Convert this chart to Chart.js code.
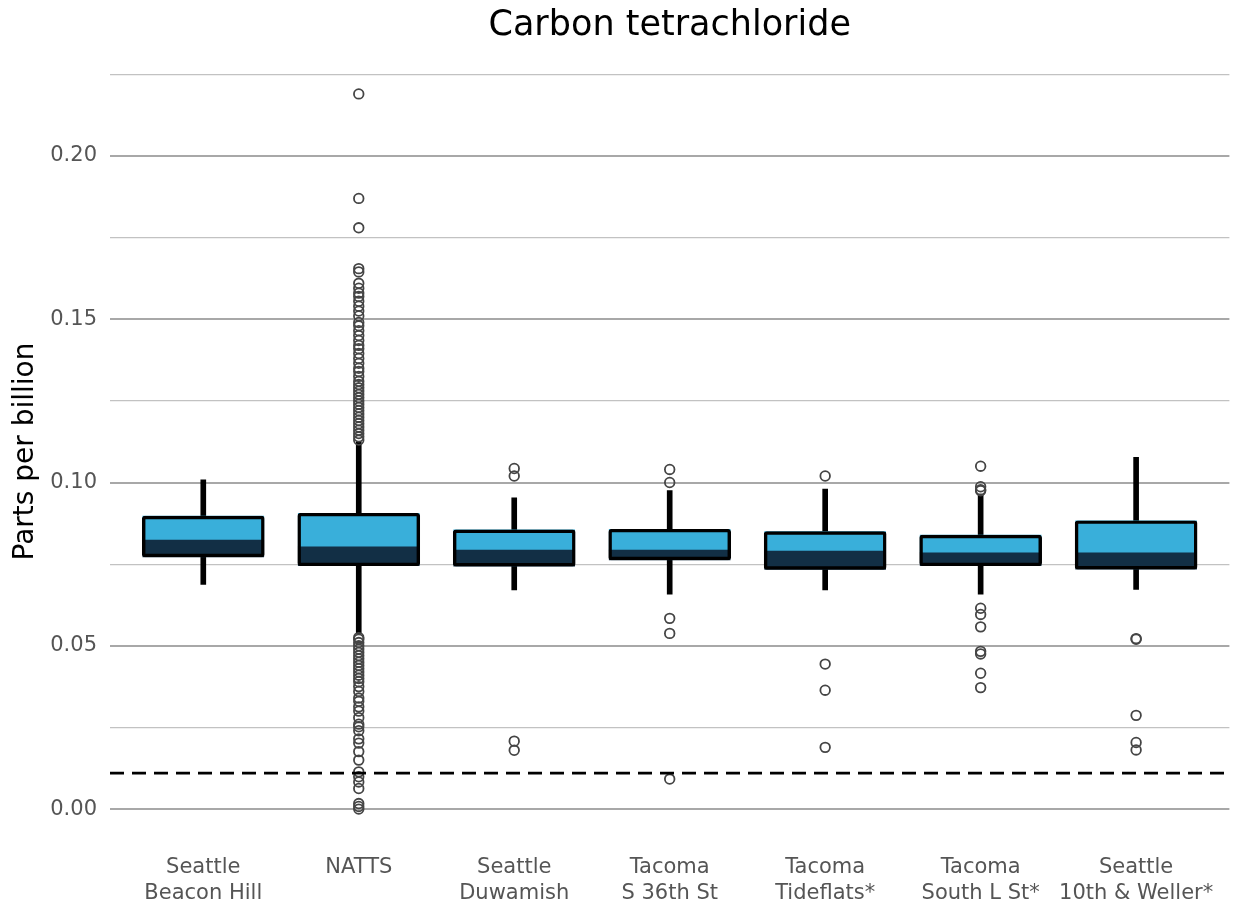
<!DOCTYPE html>
<html>
<head>
<meta charset="utf-8">
<title>Carbon tetrachloride</title>
<script src="https://cdn.jsdelivr.net/npm/chart.js@4.4.1/dist/chart.umd.min.js"></script>
<style>
  html, body { margin: 0; padding: 0; background: #ffffff; }
  #wrap { width: 1236px; height: 907px; }
</style>
</head>
<body>
<div id="wrap"><canvas id="chart" width="1236" height="907"></canvas></div>
<script>
// Monitoring sites (two-line axis labels)
const sites = [
  ["Seattle", "Beacon Hill"],
  ["NATTS"],
  ["Seattle", "Duwamish"],
  ["Tacoma", "S 36th St"],
  ["Tacoma", "Tideflats*"],
  ["Tacoma", "South L St*"],
  ["Seattle", "10th & Weller*"]
];

// Box-plot summaries, parts per billion
const whiskerLow  = [0.0688, 0.0537, 0.0671, 0.0658, 0.0671, 0.0658, 0.0673];
const q1          = [0.0772, 0.0745, 0.0744, 0.0763, 0.0734, 0.0745, 0.0735];
const median      = [0.0824, 0.0803, 0.0793, 0.0793, 0.0790, 0.0785, 0.0785];
const q3          = [0.0897, 0.0906, 0.0855, 0.0857, 0.0850, 0.0839, 0.0883];
const whiskerHigh = [0.1008, 0.1125, 0.0953, 0.0975, 0.0980, 0.0962, 0.1077];

// Outlying samples per site
const outBeaconHill = [];
const outNATTS = [
  0.219, 0.187, 0.178, 0.1655, 0.1645, 0.161, 0.1595, 0.158, 0.157, 0.1555,
  0.154, 0.1525, 0.151, 0.149, 0.148, 0.1465, 0.145, 0.1435, 0.142, 0.141,
  0.1395, 0.138, 0.1365, 0.135, 0.134, 0.1325, 0.131, 0.130, 0.129, 0.128,
  0.127, 0.126, 0.125, 0.124, 0.123, 0.122, 0.121, 0.120, 0.119, 0.118,
  0.117, 0.116, 0.115, 0.114, 0.113,
  0.0525, 0.052, 0.051, 0.050, 0.049, 0.048, 0.047, 0.046, 0.045, 0.044,
  0.043, 0.042, 0.041, 0.040, 0.039, 0.0375, 0.036, 0.034, 0.033, 0.0313,
  0.030, 0.028, 0.026, 0.0252, 0.024, 0.0215, 0.0202, 0.0176, 0.015, 0.0114,
  0.0099, 0.0083, 0.0063, 0.0017, 0.0008, 0.0
];
const outDuwamish = [0.1043, 0.102, 0.0208, 0.018];
const outS36th    = [0.104, 0.100, 0.0584, 0.0538, 0.0092];
const outTideflats = [0.102, 0.0444, 0.0364, 0.0189];
const outSouthL   = [0.105, 0.0987, 0.0978, 0.0975, 0.0615, 0.0596, 0.0558, 0.0483, 0.0475, 0.0416, 0.0372];
const outWeller   = [0.0522, 0.052, 0.0287, 0.0204, 0.0181];
const outliers = [outBeaconHill, outNATTS, outDuwamish, outS36th, outTideflats, outSouthL, outWeller];

// Reference level drawn as the dashed line
const threshold = 0.011;

// Value-axis gridlines; labelled every 0.05
const yGridValues = [0, 0.025, 0.05, 0.075, 0.10, 0.125, 0.15, 0.175, 0.20, 0.225];

const FONT = "'DejaVu Sans', sans-serif";
const X_MIN = 0.4, X_MAX = 7.6;
const Y_MIN = -0.011, Y_MAX = 0.230;

const positions = sites.map((_, i) => i + 1);
const spans = (lo, hi) => positions.map((x, i) => ({ x: x, y: [lo[i], hi[i]] }));
const outlierPoints = outliers.flatMap((vals, i) => vals.map(v => ({ x: i + 1, y: v })));
const isMajor = v => Math.abs(v / 0.05 - Math.round(v / 0.05)) < 1e-6;

// Chart heading centred over the plotting area
const headingPlugin = {
  id: 'heading',
  afterDraw(chart) {
    const { ctx, chartArea } = chart;
    ctx.save();
    ctx.font = `35px ${FONT}`;
    ctx.fillStyle = '#000000';
    ctx.textAlign = 'center';
    ctx.textBaseline = 'alphabetic';
    ctx.fillText('Carbon tetrachloride', (chartArea.left + chartArea.right) / 2, 35);
    ctx.restore();
  }
};

const barCommon = { type: 'bar', grouped: false, borderSkipped: false };

new Chart(document.getElementById('chart'), {
  type: 'bar',
  data: {
    datasets: [
      { ...barCommon, label: 'upper whisker', data: spans(q3, whiskerHigh),
        backgroundColor: '#000000', barThickness: 5, order: 6 },
      { ...barCommon, label: 'lower whisker', data: spans(whiskerLow, q1),
        backgroundColor: '#000000', barThickness: 5, order: 6 },
      { ...barCommon, label: 'Q1 to median', data: spans(q1, median),
        backgroundColor: '#122f45', barThickness: 121, order: 5 },
      { ...barCommon, label: 'median to Q3', data: spans(median, q3),
        backgroundColor: '#39afda', barThickness: 121, order: 5 },
      { ...barCommon, label: 'box', data: spans(q1, q3),
        backgroundColor: 'rgba(0,0,0,0)', borderColor: '#000000', borderWidth: 2.8,
        borderRadius: 3, barThickness: 122, order: 4 },
      { type: 'scatter', label: 'outliers', data: outlierPoints,
        pointRadius: 4.8, pointBorderWidth: 1.8, pointBorderColor: '#454545',
        pointBackgroundColor: 'rgba(0,0,0,0)', showLine: false, order: 2 },
      { type: 'line', label: 'threshold',
        data: [{ x: X_MIN, y: threshold }, { x: X_MAX, y: threshold }],
        borderColor: '#000000', borderWidth: 2.8, borderDash: [14, 8],
        pointRadius: 0, fill: false, order: 1 }
    ]
  },
  options: {
    responsive: false,
    animation: false,
    layout: { padding: { top: 58, right: 3.4, left: 0, bottom: 0 } },
    plugins: { legend: { display: false }, tooltip: { enabled: false }, title: { display: false } },
    scales: {
      x: {
        type: 'linear', offset: false, min: X_MIN, max: X_MAX,
        afterFit(scale) { scale.height = 62; },
        afterBuildTicks(scale) { scale.ticks = positions.map(v => ({ value: v })); },
        ticks: {
          autoSkip: false, maxRotation: 0, minRotation: 0, padding: 9,
          color: '#555555', font: { family: FONT, size: 21, lineHeight: 1.25 },
          callback: v => sites[Math.round(v) - 1]
        },
        grid: { display: false, drawTicks: false },
        border: { display: false }
      },
      y: {
        type: 'linear', min: Y_MIN, max: Y_MAX,
        afterFit(scale) { scale.width = 110; },
        afterBuildTicks(scale) { scale.ticks = yGridValues.map(v => ({ value: v })); },
        ticks: {
          padding: 13, color: '#555555', font: { family: FONT, size: 21 },
          callback: v => isMajor(v) ? v.toFixed(2) : ''
        },
        grid: {
          drawTicks: false,
          color: c => (c.tick && isMajor(c.tick.value)) ? '#a8a8a8' : '#c2c2c2',
          lineWidth: c => (c.tick && isMajor(c.tick.value)) ? 2 : 1.2
        },
        border: { display: false },
        title: {
          display: true, text: 'Parts per billion', color: '#000000',
          font: { family: FONT, size: 28 }, padding: { top: 9, bottom: 0 }
        }
      }
    }
  },
  plugins: [headingPlugin]
});
</script>
</body>
</html>
